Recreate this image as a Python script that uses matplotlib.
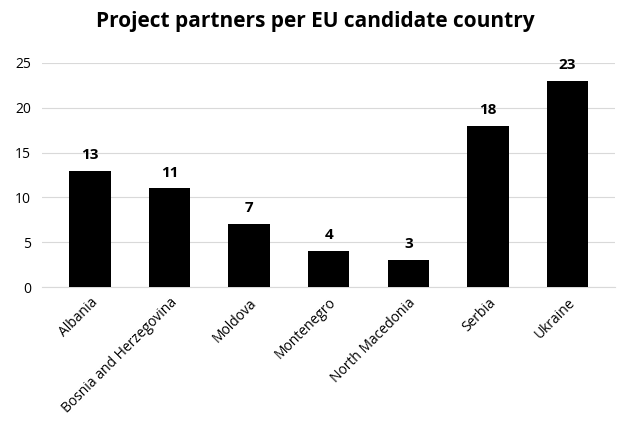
import matplotlib.pyplot as plt

countries = ["Albania", "Bosnia and Herzegovina", "Moldova", "Montenegro",
             "North Macedonia", "Serbia", "Ukraine"]
partners = [13, 11, 7, 4, 3, 18, 23]
yticks = [0, 5, 10, 15, 20, 25]

plt.rcParams["font.family"] = "Open Sans"

fig = plt.figure(figsize=(6.31, 4.37), dpi=100)
ax = fig.add_axes([0.067, 0.343, 0.908, 0.513])
x = range(len(countries))
bars = ax.bar(x, partners, width=0.52, color="black", zorder=3)
for xi, v in zip(x, partners):
    ax.text(xi, v + 1.0, str(v), ha="center", va="bottom",
            fontsize=11, fontweight="bold")

ax.set_ylim(0, 25)
ax.set_xlim(-0.6, len(countries) - 0.4)
ax.set_yticks(yticks)
ax.yaxis.grid(True, color="#d9d9d9", linewidth=0.8, zorder=0)
ax.set_xticks(list(x))
ax.set_xticklabels(countries, rotation=45, ha="right", rotation_mode="anchor",
                   fontsize=10)
ax.tick_params(axis="y", labelsize=10, length=0, pad=8)
ax.tick_params(axis="x", length=0, pad=6)
for s in ["top", "right", "left"]:
    ax.spines[s].set_visible(False)
ax.spines["bottom"].set_color("#d9d9d9")

fig.suptitle("Project partners per EU candidate country", fontsize=15,
             fontweight="bold", y=0.975)
fig.savefig("out.png", dpi=100)
